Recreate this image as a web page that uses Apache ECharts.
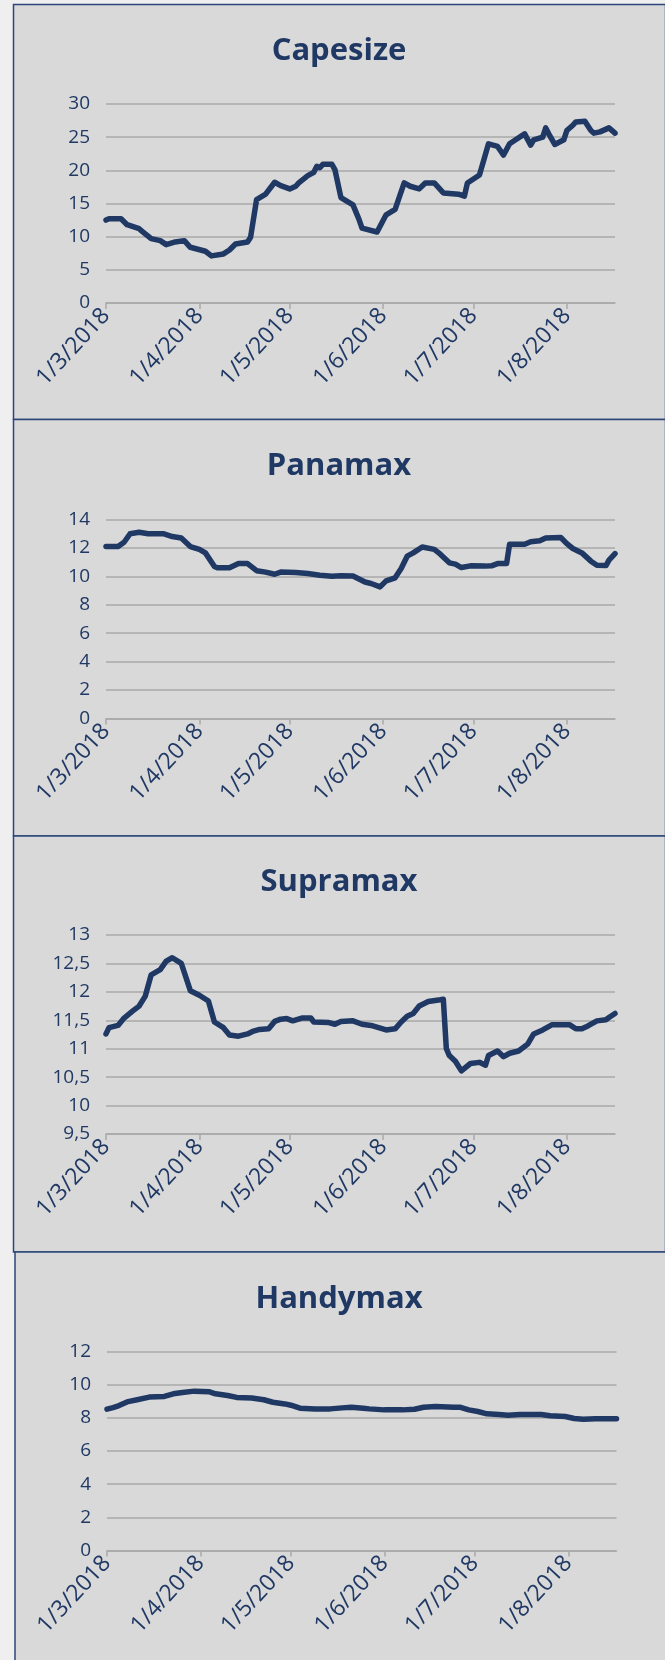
<!DOCTYPE html>
<html><head><meta charset="utf-8">
<script src="https://cdn.jsdelivr.net/npm/echarts@6/dist/echarts.min.js"></script>
<style>html,body{margin:0;padding:0;background:#efefef;} #c{width:665px;height:1660px;}</style>
</head><body><div id="c"></div>
<script>
// ---- data ----
const titles = ['Capesize', 'Panamax', 'Supramax', 'Handymax'];
const monthTicks = ['2018-03-01','2018-04-01','2018-05-01','2018-06-01','2018-07-01','2018-08-01'];
const xStart = '2018-03-01';
const xEnd = '2018-08-17';

const capesizeDates = ['2018-03-01','2018-03-02','2018-03-06','2018-03-08','2018-03-12','2018-03-13','2018-03-16','2018-03-19','2018-03-21','2018-03-24','2018-03-27','2018-03-29','2018-04-03','2018-04-05','2018-04-09','2018-04-11','2018-04-13','2018-04-17','2018-04-18','2018-04-20','2018-04-23','2018-04-26','2018-04-28','2018-05-01','2018-05-03','2018-05-04','2018-05-07','2018-05-09','2018-05-10','2018-05-11','2018-05-12','2018-05-15','2018-05-16','2018-05-18','2018-05-22','2018-05-24','2018-05-25','2018-05-30','2018-06-02','2018-06-05','2018-06-08','2018-06-10','2018-06-13','2018-06-15','2018-06-18','2018-06-21','2018-06-26','2018-06-28','2018-06-29','2018-07-03','2018-07-06','2018-07-09','2018-07-11','2018-07-13','2018-07-15','2018-07-18','2018-07-20','2018-07-21','2018-07-24','2018-07-25','2018-07-26','2018-07-28','2018-07-31','2018-08-01','2018-08-03','2018-08-04','2018-08-07','2018-08-09','2018-08-10','2018-08-12','2018-08-15','2018-08-17'];
const capesizeValues = [12.5,12.7,12.7,11.8,11.2,10.8,9.7,9.4,8.8,9.2,9.4,8.4,7.8,7.1,7.4,8.0,8.9,9.2,9.9,15.6,16.4,18.2,17.7,17.2,17.6,18.1,19.2,19.7,20.6,20.4,20.9,20.9,20.1,15.9,14.8,12.6,11.3,10.7,13.3,14.1,18.1,17.6,17.2,18.1,18.1,16.6,16.4,16.1,18.1,19.3,24.0,23.6,22.3,24.0,24.6,25.5,23.8,24.6,25.0,26.4,25.5,23.9,24.6,26.0,26.8,27.3,27.4,26.0,25.6,25.8,26.4,25.6];

const panamaxDates = ['2018-03-01','2018-03-05','2018-03-07','2018-03-09','2018-03-12','2018-03-15','2018-03-20','2018-03-23','2018-03-26','2018-03-29','2018-04-01','2018-04-03','2018-04-06','2018-04-07','2018-04-11','2018-04-14','2018-04-17','2018-04-20','2018-04-23','2018-04-26','2018-04-28','2018-05-03','2018-05-07','2018-05-11','2018-05-15','2018-05-18','2018-05-22','2018-05-26','2018-05-28','2018-05-31','2018-06-02','2018-06-05','2018-06-07','2018-06-09','2018-06-11','2018-06-14','2018-06-18','2018-06-20','2018-06-23','2018-06-25','2018-06-27','2018-06-30','2018-07-05','2018-07-07','2018-07-09','2018-07-12','2018-07-13','2018-07-18','2018-07-20','2018-07-23','2018-07-25','2018-07-30','2018-08-01','2018-08-03','2018-08-06','2018-08-09','2018-08-11','2018-08-14','2018-08-15','2018-08-17'];
const panamaxValues = [12.1,12.1,12.4,13.0,13.1,13.0,13.0,12.8,12.7,12.1,11.9,11.65,10.7,10.6,10.6,10.9,10.9,10.4,10.3,10.15,10.3,10.27,10.2,10.08,10.0,10.05,10.03,9.6,9.5,9.26,9.68,9.9,10.55,11.42,11.65,12.07,11.9,11.56,10.95,10.86,10.62,10.74,10.72,10.74,10.9,10.9,12.26,12.26,12.43,12.5,12.7,12.73,12.3,11.96,11.65,11.07,10.78,10.76,11.14,11.6];

const supramaxDates = ['2018-03-01','2018-03-02','2018-03-05','2018-03-07','2018-03-10','2018-03-12','2018-03-14','2018-03-16','2018-03-19','2018-03-21','2018-03-23','2018-03-26','2018-03-29','2018-04-01','2018-04-04','2018-04-06','2018-04-09','2018-04-11','2018-04-14','2018-04-17','2018-04-19','2018-04-21','2018-04-24','2018-04-26','2018-04-28','2018-04-30','2018-05-02','2018-05-05','2018-05-08','2018-05-09','2018-05-14','2018-05-16','2018-05-18','2018-05-22','2018-05-25','2018-05-28','2018-06-02','2018-06-05','2018-06-07','2018-06-09','2018-06-11','2018-06-13','2018-06-16','2018-06-20','2018-06-21','2018-06-22','2018-06-23','2018-06-25','2018-06-27','2018-06-30','2018-07-03','2018-07-05','2018-07-06','2018-07-09','2018-07-11','2018-07-13','2018-07-16','2018-07-19','2018-07-21','2018-07-24','2018-07-27','2018-08-02','2018-08-04','2018-08-06','2018-08-08','2018-08-11','2018-08-14','2018-08-15','2018-08-17'];
const supramaxValues = [11.26,11.37,11.41,11.54,11.67,11.75,11.92,12.30,12.39,12.54,12.60,12.50,12.02,11.94,11.84,11.47,11.37,11.24,11.22,11.26,11.31,11.34,11.35,11.48,11.52,11.53,11.49,11.54,11.54,11.47,11.46,11.43,11.48,11.49,11.43,11.41,11.33,11.35,11.47,11.57,11.62,11.75,11.83,11.86,11.87,11.0,10.88,10.78,10.61,10.74,10.76,10.71,10.88,10.96,10.86,10.92,10.96,11.08,11.26,11.33,11.42,11.42,11.35,11.35,11.40,11.49,11.51,11.55,11.62];

const handymaxDates = ['2018-03-01','2018-03-03','2018-03-05','2018-03-08','2018-03-11','2018-03-15','2018-03-20','2018-03-23','2018-03-26','2018-03-30','2018-04-04','2018-04-06','2018-04-10','2018-04-13','2018-04-18','2018-04-22','2018-04-25','2018-04-29','2018-05-01','2018-05-04','2018-05-09','2018-05-14','2018-05-18','2018-05-21','2018-05-25','2018-05-27','2018-06-01','2018-06-07','2018-06-11','2018-06-14','2018-06-18','2018-06-24','2018-06-26','2018-06-29','2018-07-02','2018-07-05','2018-07-09','2018-07-12','2018-07-16','2018-07-23','2018-07-26','2018-07-31','2018-08-03','2018-08-06','2018-08-10','2018-08-14','2018-08-17'];
const handymaxValues = [8.52,8.62,8.74,8.98,9.09,9.25,9.29,9.45,9.53,9.61,9.57,9.45,9.35,9.23,9.19,9.09,8.94,8.84,8.76,8.58,8.54,8.54,8.60,8.64,8.58,8.54,8.48,8.48,8.52,8.64,8.68,8.64,8.64,8.48,8.38,8.24,8.20,8.16,8.20,8.20,8.12,8.08,7.96,7.92,7.94,7.94,7.94];

const yMins = [0, 0, 9.5, 0];
const yMaxs = [30, 14, 13, 12];
const yIntervals = [5, 2, 0.5, 2];

// ---- layout ----
const navy = '#1f3864';
const gridGray = '#a9a9a9';
const panels = [
  {x: 13.5, y: 4.5, w: 652, h: 415},
  {x: 13.5, y: 419.5, w: 652, h: 416.5},
  {x: 13.5, y: 836, w: 652, h: 416},
  {x: 15, y: 1252, w: 651, h: 420}
];
const grids = [
  {left: 106, top: 104, width: 509, height: 199},
  {left: 106, top: 519.5, width: 509, height: 199},
  {left: 106, top: 935, width: 509, height: 199},
  {left: 107, top: 1351.5, width: 509.5, height: 199}
];
const titleTops = [36, 450.5, 867, 1284];

function parseLocal(s) { const p = s.split('-').map(Number); return new Date(p[0], p[1] - 1, p[2]).getTime(); }
function fmtDate(v) { const d = new Date(v); return d.getDate() + '/' + (d.getMonth() + 1) + '/' + d.getFullYear(); }

const allDates = [capesizeDates, panamaxDates, supramaxDates, handymaxDates];
const allValues = [capesizeValues, panamaxValues, supramaxValues, handymaxValues];
const tickTs = monthTicks.map(parseLocal);

const option = {
  animation: false,
  backgroundColor: '#efefef',
  graphic: panels.map(p => ({
    type: 'rect', z: -10, silent: true,
    shape: {x: p.x, y: p.y, width: p.w, height: p.h},
    style: {fill: '#d9d9d9', stroke: '#2c4677', lineWidth: 1.5}
  })),
  title: titles.map((t, i) => ({
    text: t, left: 339, top: titleTops[i], textAlign: 'center', padding: 0,
    textStyle: {fontFamily: 'Open Sans', fontWeight: 'bold', fontSize: 31, color: navy}
  })),
  grid: grids.map(g => Object.assign({containLabel: false}, g)),
  xAxis: grids.map((g, i) => ({
    type: 'value', gridIndex: i,
    min: parseLocal(xStart), max: parseLocal(xEnd),
    axisLine: {show: true, lineStyle: {color: gridGray, width: 1.5}},
    axisTick: {show: true, length: 6, lineStyle: {color: gridGray, width: 1.5}, customValues: tickTs},
    axisLabel: {rotate: 47, margin: 9, color: navy, fontFamily: 'Open Sans', fontSize: 23,
      customValues: tickTs, formatter: v => fmtDate(v), hideOverlap: false,
      showMinLabel: true, showMaxLabel: true},
    splitLine: {show: false}
  })),
  yAxis: grids.map((g, i) => ({
    type: 'value', gridIndex: i, min: yMins[i], max: yMaxs[i], interval: yIntervals[i],
    axisLine: {show: false}, axisTick: {show: false},
    axisLabel: {margin: 16, color: navy, fontFamily: 'Open Sans', fontSize: 19,
      formatter: v => String(v).replace('.', ',')},
    splitLine: {show: true, lineStyle: {color: gridGray, width: 1.5}}
  })),
  series: allValues.map((vals, i) => ({
    type: 'line', xAxisIndex: i, yAxisIndex: i, showSymbol: false, symbol: 'none',
    lineStyle: {color: navy, width: 5.5, cap: 'round', join: 'round'},
    data: vals.map((v, k) => [parseLocal(allDates[i][k]), v])
  }))
};
const chart = echarts.init(document.getElementById('c'), null, {renderer: 'canvas'});
chart.setOption(option);
</script></body></html>
